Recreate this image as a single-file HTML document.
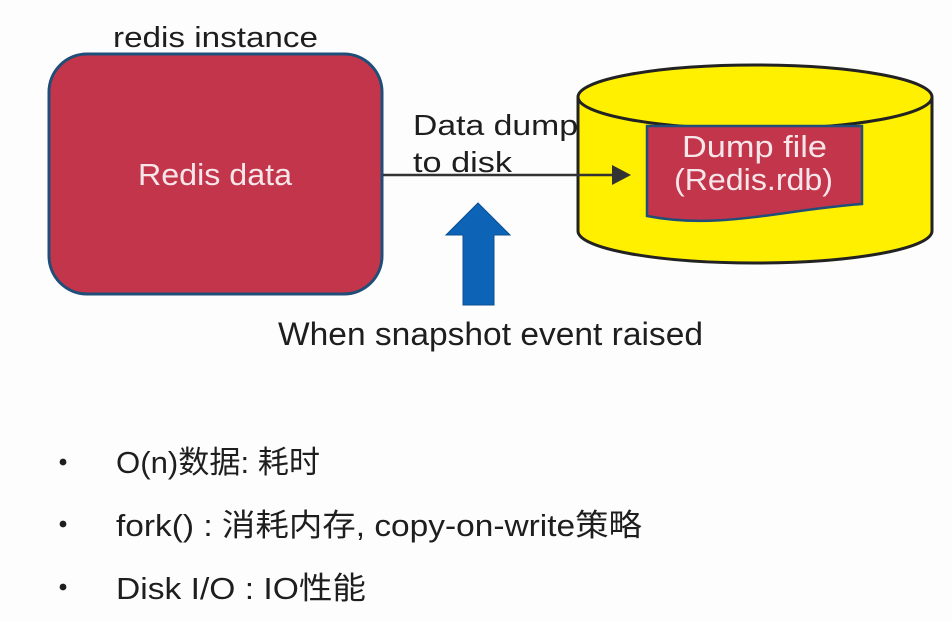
<!DOCTYPE html>
<html>
<head>
<meta charset="utf-8">
<style>
  html, body { margin: 0; padding: 0; background: #fdfdfd; }
  svg { display: block; }
  text { font-family: "Liberation Sans", "Noto Sans CJK SC", sans-serif; }
</style>
</head>
<body>
<svg width="952" height="621" viewBox="0 0 952 621" xmlns="http://www.w3.org/2000/svg">
  <rect x="0" y="0" width="952" height="621" fill="#fdfdfd"/>

  <!-- redis instance label -->
  <text x="113" y="47" font-size="29" fill="#1e1e1e" textLength="205" lengthAdjust="spacingAndGlyphs">redis instance</text>

  <!-- Redis data box -->
  <rect x="49" y="54" width="333" height="240" rx="38" ry="38" fill="#c3354a" stroke="#1f4e79" stroke-width="3"/>
  <text x="138" y="185" font-size="31" fill="#f6e6ea" textLength="154" lengthAdjust="spacingAndGlyphs">Redis data</text>

  <!-- Cylinder -->
  <path d="M578,97 L578,231 A177,32 0 0 0 932,231 L932,97 Z" fill="#fff000" stroke="none"/>
  <path d="M578,97 L578,231 A177,32 0 0 0 932,231 L932,97" fill="none" stroke="#222" stroke-width="3"/>
  <ellipse cx="755" cy="97" rx="177" ry="32" fill="#fff000" stroke="#222" stroke-width="3"/>

  <!-- Dump file document -->
  <path d="M647,126 L862,126 L862,204 C780,210 720,230 647,216 Z" fill="#c3354a" stroke="#1f4e79" stroke-width="2.5"/>
  <text x="682" y="157" font-size="31" fill="#f6e6ea" textLength="145" lengthAdjust="spacingAndGlyphs">Dump file</text>
  <text x="674" y="190" font-size="31" fill="#f6e6ea" textLength="159" lengthAdjust="spacingAndGlyphs">(Redis.rdb)</text>

  <!-- Connector -->
  <line x1="383" y1="175" x2="614" y2="175" stroke="#333" stroke-width="2.5"/>
  <polygon points="612,165 631,175 612,185" fill="#333"/>

  <!-- Connector label -->
  <text x="413" y="135" font-size="29" fill="#1e1e1e" textLength="165" lengthAdjust="spacingAndGlyphs">Data dump</text>
  <text x="413" y="172" font-size="29" fill="#1e1e1e" textLength="99" lengthAdjust="spacingAndGlyphs">to disk</text>

  <!-- Blue up arrow -->
  <polygon points="478,203 510,235 494,235 494,305 463,305 463,235 446,235" fill="#0d64b6" stroke="#0a4f92" stroke-width="1"/>

  <text x="278" y="345" font-size="32" fill="#1e1e1e" textLength="425" lengthAdjust="spacingAndGlyphs">When snapshot event raised</text>

  <!-- Bullets -->
  <circle cx="63" cy="462" r="3.4" fill="#1e1e1e"/>
  <circle cx="63" cy="524" r="3.4" fill="#1e1e1e"/>
  <circle cx="63" cy="587" r="3.4" fill="#1e1e1e"/>

  <text x="116" y="473" font-size="31" fill="#1e1e1e" textLength="204" lengthAdjust="spacingAndGlyphs">O(n)数据: 耗时</text>
  <text x="116" y="536" font-size="31" fill="#1e1e1e" textLength="526" lengthAdjust="spacingAndGlyphs">fork() : 消耗内存, copy-on-write策略</text>
  <text x="116" y="599" font-size="31" fill="#1e1e1e" textLength="250" lengthAdjust="spacingAndGlyphs">Disk I/O : IO性能</text>
</svg>
</body>
</html>
